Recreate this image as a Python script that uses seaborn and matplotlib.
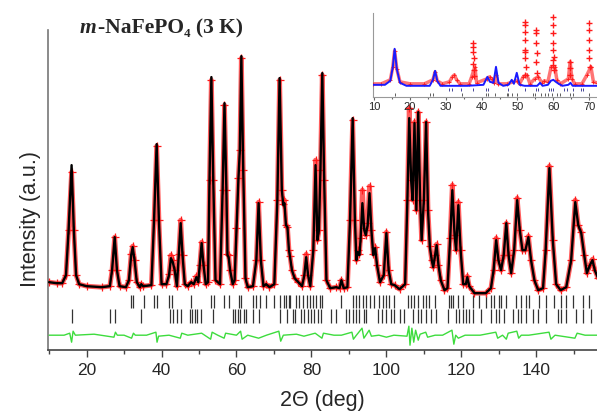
import numpy as np
import matplotlib
matplotlib.use('Agg')
import matplotlib.pyplot as plt
import seaborn as sns

# 主图: 2θ, 计算强度, 观测强度 (从图上读取, 任意单位)
tth = [10.0, 12.0, 13.5, 14.5, 15.2, 16.0, 16.6, 17.2, 18.0, 20.0,
       24.0, 26.2, 26.8, 27.5, 28.1, 28.8, 30.5, 31.3, 31.9, 32.3,
       32.8, 33.4, 34.2, 34.6, 35.1, 37.3, 38.0, 38.7, 39.3, 40.0,
       41.3, 42.0, 42.5, 43.0, 43.5, 44.1, 44.6, 45.1, 45.6, 46.2,
       47.0, 47.9, 48.6, 49.3, 49.8, 50.2, 50.7, 51.2, 51.8, 52.4,
       52.8, 53.3, 53.8, 54.4, 55.6, 56.3, 56.8, 57.3, 57.6, 57.9,
       58.3, 59.0, 59.5, 60.0, 60.5, 60.9, 61.3, 61.8, 62.4, 63.0,
       64.4, 65.3, 65.9, 66.5, 67.2, 67.9, 68.8, 70.1, 70.9, 71.5,
       72.1, 72.5, 72.8, 73.2, 73.6, 74.0, 74.3, 74.8, 75.5, 76.5,
       77.5, 78.1, 78.6, 79.1, 79.7, 80.5, 81.1, 81.6, 82.0, 82.4,
       82.9, 83.4, 84.0, 85.0, 86.6, 87.5, 88.0, 88.6, 89.6, 90.3,
       91.0, 91.6, 92.0, 92.3, 92.8, 93.1, 93.6, 94.1, 94.5, 95.0,
       95.5, 96.0, 96.5, 97.0, 97.5, 98.3, 99.3, 100.0, 100.6, 101.3,
       102.2, 103.5, 105.0, 105.6, 106.1, 106.6, 107.0, 107.5, 108.0, 108.5,
       109.0, 109.4, 110.0, 110.6, 111.1, 111.6, 112.1, 112.5, 113.0, 113.4,
       113.9, 114.5, 115.5, 116.3, 117.0, 117.6, 118.2, 118.6, 119.2, 119.8,
       120.5, 121.2, 121.6, 122.1, 123.5, 126.5, 127.9, 128.6, 129.3, 129.9,
       130.6, 131.3, 132.0, 132.6, 133.3, 134.1, 134.9, 135.6, 136.3, 137.1,
       137.9, 138.6, 139.5, 140.5, 141.8, 142.5, 143.5, 144.4, 145.3, 146.5,
       148.0, 149.3, 150.4, 151.2, 152.0, 152.8, 153.5, 154.3, 155.0, 155.6,
       156.5]
y_calc = [68, 67, 67, 75, 120, 185, 120, 75, 66, 64,
          63, 64, 80, 113, 80, 64, 63, 70, 95, 103,
          90, 68, 63, 66, 64, 65, 130, 206, 130, 66,
          66, 75, 92, 88, 80, 64, 95, 127, 95, 66,
          64, 68, 66, 73, 68, 85, 107, 85, 66, 68,
          170, 273, 170, 70, 66, 160, 247, 160, 95, 93,
          80, 66, 70, 120, 170, 200, 294, 180, 72, 63,
          64, 90, 147, 90, 64, 66, 63, 66, 150, 272,
          160, 145, 147, 125, 123, 100, 93, 80, 72, 68,
          64, 75, 93, 75, 64, 100, 185, 110, 120, 180,
          277, 170, 70, 62, 63, 62, 70, 62, 63, 130,
          232, 130, 90, 98, 95, 110, 147, 120, 115, 125,
          157, 120, 95, 102, 85, 68, 75, 117, 80, 66,
          65, 61, 66, 150, 232, 170, 150, 227, 140, 238,
          150, 110, 150, 228, 140, 103, 90, 83, 95, 105,
          85, 70, 60, 62, 110, 160, 115, 100, 145, 100,
          66, 66, 73, 64, 57, 57, 62, 80, 110, 90,
          80, 95, 127, 95, 77, 100, 150, 120, 100, 100,
          113, 90, 70, 60, 62, 100, 182, 110, 66, 60,
          63, 90, 148, 125, 117, 95, 77, 85, 90, 80,
          72]
y_obs = [68, 67, 67, 75, 120, 178, 120, 75, 66, 64,
         63, 64, 80, 113, 80, 64, 63, 70, 96, 104,
         90, 68, 63, 66, 64, 65, 130, 204, 130, 66,
         66, 76, 95, 90, 80, 64, 96, 130, 95, 66,
         64, 68, 66, 74, 68, 85, 108, 85, 66, 68,
         170, 270, 170, 70, 66, 160, 245, 160, 96, 95,
         80, 66, 70, 122, 172, 200, 292, 180, 72, 63,
         64, 90, 148, 90, 64, 66, 63, 66, 150, 270,
         160, 146, 150, 125, 123, 100, 94, 80, 72, 68,
         64, 75, 96, 75, 64, 100, 190, 110, 120, 180,
         275, 170, 70, 62, 63, 62, 70, 62, 63, 130,
         230, 130, 90, 100, 96, 112, 160, 122, 115, 127,
         164, 120, 96, 103, 85, 68, 75, 118, 80, 66,
         65, 61, 66, 150, 242, 170, 150, 228, 140, 238,
         150, 110, 150, 228, 140, 104, 90, 83, 95, 106,
         85, 70, 60, 62, 112, 165, 115, 100, 148, 100,
         66, 66, 74, 64, 57, 57, 62, 80, 112, 90,
         80, 95, 127, 95, 77, 100, 152, 120, 100, 100,
         114, 90, 70, 60, 62, 100, 184, 110, 66, 60,
         63, 90, 150, 125, 118, 95, 77, 85, 91, 80,
         72]

# 差值曲线
diff_x = [10, 14, 15.5, 16.0, 16.4, 17, 22, 27.3, 27.7, 28.2,
          30, 32.0, 32.5, 33, 36, 38.5, 38.8, 39.2, 42, 45.0,
          45.4, 47, 50.7, 53.1, 53.5, 55, 56.7, 57.1, 60, 61.1,
          61.5, 63, 65.9, 68, 71.3, 71.8, 72.5, 76, 78, 81,
          82.8, 83.2, 86, 88, 90.8, 91.2, 92, 93.5, 94.0, 95.4,
          96.0, 98, 100, 102, 105.5, 106.0, 106.3, 106.8, 107.3, 107.8,
          108.5, 109.0, 110.5, 111.0, 113, 115, 117.5, 118.0, 118.5, 119.2,
          121, 125, 129.2, 129.7, 131, 132.0, 132.5, 134.8, 135.3, 136,
          138, 143.4, 143.9, 145, 150.3, 150.9, 153, 156.5]
diff_y = [15, 15, 17, 8, 19, 15, 16, 13, 18, 15,
          15, 12, 17, 15, 15, 18, 8, 14, 15, 12,
          17, 15, 17, 11, 18, 15, 12, 17, 15, 19,
          11, 15, 12, 15, 19, 9, 15, 16, 14, 17,
          12, 17, 15, 15, 18, 11, 15, 22, 12, 20,
          14, 15, 13, 15, 14, 24, 5, 22, 8, 20,
          10, 16, 18, 13, 15, 15, 20, 6, 15, 12,
          15, 15, 18, 12, 15, 11, 17, 19, 12, 15,
          15, 18, 11, 15, 12, 17, 15, 15]

# 布拉格峰位置 (两相)
ticks_a = [31.9, 32.5, 35.2, 38.1, 38.8, 42.1, 42.8, 47.9, 53.2, 53.9,
           56.8, 58.0, 60.6, 61.1, 64.4, 65.2, 66.3, 67.9, 70.1, 71.5,
           72.6, 73.2, 73.9, 74.3, 75.9, 76.8, 77.7, 78.8, 79.5, 80.4,
           81.2, 82.3, 82.8, 87.9, 91.0, 91.9, 92.8, 93.7, 94.6, 95.5,
           96.8, 98.1, 99.0, 99.9, 100.8, 102.1, 105.7, 106.6, 107.5, 108.4,
           109.7, 110.6, 111.5, 113.1, 116.8, 117.2, 117.9, 119.0, 120.4, 123.0,
           124.8, 126.6, 127.9, 128.8, 130.1, 130.6, 131.9, 134.6, 135.9, 137.2,
           138.1, 140.8, 142.6, 144.8, 146.6, 147.9, 149.7, 152.4, 154.1]
ticks_b = [16.2, 26.3, 27.7, 34.6, 42.3, 43.0, 44.1, 45.2, 47.5, 48.2,
           48.8, 49.4, 50.6, 53.7, 59.0, 59.7, 60.4, 61.0, 61.9, 62.6,
           64.4, 66.1, 71.5, 73.4, 75.0, 75.7, 77.2, 78.1, 79.0, 79.9,
           80.8, 81.7, 82.6, 85.2, 86.6, 89.2, 90.1, 91.0, 91.9, 92.8,
           93.9, 94.6, 97.7, 98.8, 99.9, 101.2, 102.1, 103.5, 104.8, 107.0,
           108.4, 109.2, 110.6, 111.9, 113.2, 116.4, 118.6, 119.5, 120.4, 121.2,
           122.1, 123.0, 125.2, 127.9, 129.2, 130.1, 131.5, 133.7, 135.0, 135.9,
           137.2, 139.0, 140.4, 142.6, 145.7, 146.6, 147.9, 150.6, 152.4, 154.6]

# 插图数据
ins_x = [9.7, 13, 14.5, 15.2, 15.7, 16.3, 17.2, 19, 25.5, 26.4,
         27.0, 27.6, 28.5, 31, 36, 40.5, 41.6, 42.3, 43.3, 44.0,
         44.7, 46, 47.5, 48.4, 49.0, 49.8, 50.6, 52, 55.5, 56.3,
         57, 58.5, 59.3, 60.0, 60.7, 61.5, 62.5, 64.2, 64.8, 65.4,
         68, 72.2]
ins_calc = [12, 12, 16, 30, 48, 28, 14, 11, 11, 17,
            26, 16, 11, 11, 11, 12, 20, 15, 14, 30,
            14, 11, 12, 17, 13, 24, 12, 11, 11, 14,
            11, 12, 16, 17, 15, 13, 11, 12, 14, 11,
            11, 11]
ins_obs_x = [9.7, 12, 14.5, 15.2, 15.7, 16.3, 17.2, 20, 24, 26.4,
             27.0, 27.6, 29, 31.0, 31.8, 32.4, 33, 34, 36.5, 37.2,
             38.1, 38.6, 41.5, 42.2, 42.8, 43.5, 44.0, 44.6, 47, 49.8,
             50.6, 51.6, 52.6, 53.5, 54.8, 55.8, 56.8, 57.5, 58.5, 59.4,
             60.4, 61.0, 62, 64.2, 64.7, 65.2, 66, 68, 69.4, 70.5,
             71.2, 72.2]
ins_obs_y = [13, 13, 17, 30, 46, 28, 15, 13, 13, 17,
             25, 16, 13, 15, 20, 22, 17, 13, 13, 20,
             30, 14, 18, 20, 18, 14, 22, 13, 13, 16,
             13, 20, 22, 13, 18, 20, 14, 16, 15, 30,
             30, 17, 13, 18, 35, 18, 13, 13, 22, 30,
             15, 14]
spike_x = [37.6, 37.7, 37.6, 37.8, 37.7, 37.9, 38.0,
           52.0, 52.1, 52.0, 52.2, 52.1, 52.2, 52.0, 52.3, 52.1,
           55.2, 55.3, 55.2, 55.4, 55.3, 55.5,
           59.8, 59.9, 59.8, 60.0, 59.9, 60.1, 59.8, 60.0, 60.2,
           64.6, 64.7, 64.8,
           69.9, 70.0, 69.9, 70.1, 70.0, 70.2]
spike_y = [54, 50, 45, 39, 33, 27, 21,
           75, 72, 65, 57, 47, 45, 39, 30, 22,
           67, 64, 54, 44, 35, 24,
           80, 72, 64, 54, 47, 40, 37, 32, 27,
           35, 29, 22,
           74, 67, 57, 47, 39, 30]
ins_ticks_a = [31.0, 31.6, 34.2, 37.7, 41.2, 41.9, 47.4, 52.1, 55.2, 55.8,
               58.9, 59.3, 59.8, 62.9, 63.7, 65.6, 67.6, 68.3]
ins_ticks_b = [15.9, 25.6, 26.5, 34.4, 41.2, 41.9, 43.7, 47.0, 47.4, 48.4,
               49.8, 54.2, 54.9, 56.7, 57.7, 58.6, 59.5, 60.9, 61.8, 64.6,
               65.6, 70.0]

sns.set_style('ticks')
plt.rcParams['font.family'] = ['Liberation Sans', 'DejaVu Sans']

RED = '#ff1a1a'

fig = plt.figure(figsize=(5.97, 4.12), dpi=100)
ax = fig.add_axes([0.081, 0.150, 0.919, 0.777])

# 观测值 (红色 +) 与计算值 (黑线)
sns.lineplot(x=tth, y=y_obs, ax=ax, color=RED, lw=3.5, alpha=0.7, zorder=2)
ax.plot(tth, y_obs, ls='none', marker='+', ms=5.5, mew=0.9, color=RED, zorder=3)
sns.lineplot(x=tth, y=y_calc, ax=ax, color='black', lw=1.7, zorder=4)
sns.lineplot(x=diff_x, y=diff_y, ax=ax, color='#3ddc3d', lw=1.0, zorder=4)
ax.vlines(ticks_a, 42, 55, color='#333333', lw=0.9)
ax.vlines(ticks_b, 27, 41, color='#333333', lw=0.9)

ax.set_xlim(9.8, 156.2)
ax.set_ylim(0, 320)
ax.set_yticks([])
ax.set_xticks(range(20, 141, 20))
ax.set_xticks(range(10, 156, 20), minor=True)
ax.tick_params(axis='x', which='major', direction='out', length=5, width=1,
               labelsize=12.5, color='#444444', pad=4)
ax.tick_params(axis='x', which='minor', direction='out', length=3, width=1,
               color='#444444')
for s in ['top', 'right']:
    ax.spines[s].set_visible(False)
ax.spines['left'].set_color('#777777')
ax.spines['bottom'].set_color('#444444')
ax.spines['left'].set_linewidth(1.2)
ax.spines['bottom'].set_linewidth(1.2)
ax.set_xlabel('2Θ (deg)', fontsize=15.5, labelpad=9)
ax.set_ylabel('Intensity (a.u.)', fontsize=15.5)
ax.yaxis.set_label_coords(-0.013, 0.41)

# 标题: 斜体 m 后接 -NaFePO4 (3 K)
t1 = fig.text(0.134, 0.932, 'm', fontsize=15.5, fontweight='bold', style='italic',
              family='Liberation Serif', va='center')
fig.canvas.draw()
bb = t1.get_window_extent().transformed(fig.transFigure.inverted())
fig.text(bb.x1 + 0.002, 0.932, '-NaFePO₄ (3 K)', fontsize=15.5, fontweight='bold',
         family='Liberation Serif', va='center')

# 插图
axin = fig.add_axes([0.625, 0.765, 0.375, 0.204])
axin.set_facecolor('white')
sns.lineplot(x=ins_obs_x, y=ins_obs_y, ax=axin, color=RED, lw=2.5, alpha=0.6, zorder=2)
axin.plot(ins_obs_x, ins_obs_y, ls='none', marker='+', ms=3.5, mew=0.6, color=RED, zorder=3)
axin.plot(spike_x, spike_y, ls='none', marker='+', ms=4.5, mew=1.0, color=RED, zorder=5)
sns.lineplot(x=ins_x, y=ins_calc, ax=axin, color='#1a1aff', lw=1.4, zorder=4)
axin.vlines(ins_ticks_a, 6, 9, color='#2a2a88', lw=0.6)
axin.vlines(ins_ticks_b, 1, 4, color='#444444', lw=0.6)
axin.set_xlim(9.7, 72.2)
axin.set_ylim(0, 84)
axin.set_yticks([])
axin.set_xticks(range(10, 71, 10))
axin.set_xticks(range(15, 72, 10), minor=True)
axin.tick_params(axis='x', which='major', length=2.5, width=0.8, labelsize=8,
                 pad=1.5, color='#666666')
axin.tick_params(axis='x', which='minor', length=1.5, width=0.8, color='#666666')
for s in ['top', 'right']:
    axin.spines[s].set_visible(False)
axin.spines['left'].set_color('#999999')
axin.spines['bottom'].set_color('#999999')
axin.spines['left'].set_linewidth(0.8)
axin.spines['bottom'].set_linewidth(0.8)

fig.savefig('out.png', dpi=100)
